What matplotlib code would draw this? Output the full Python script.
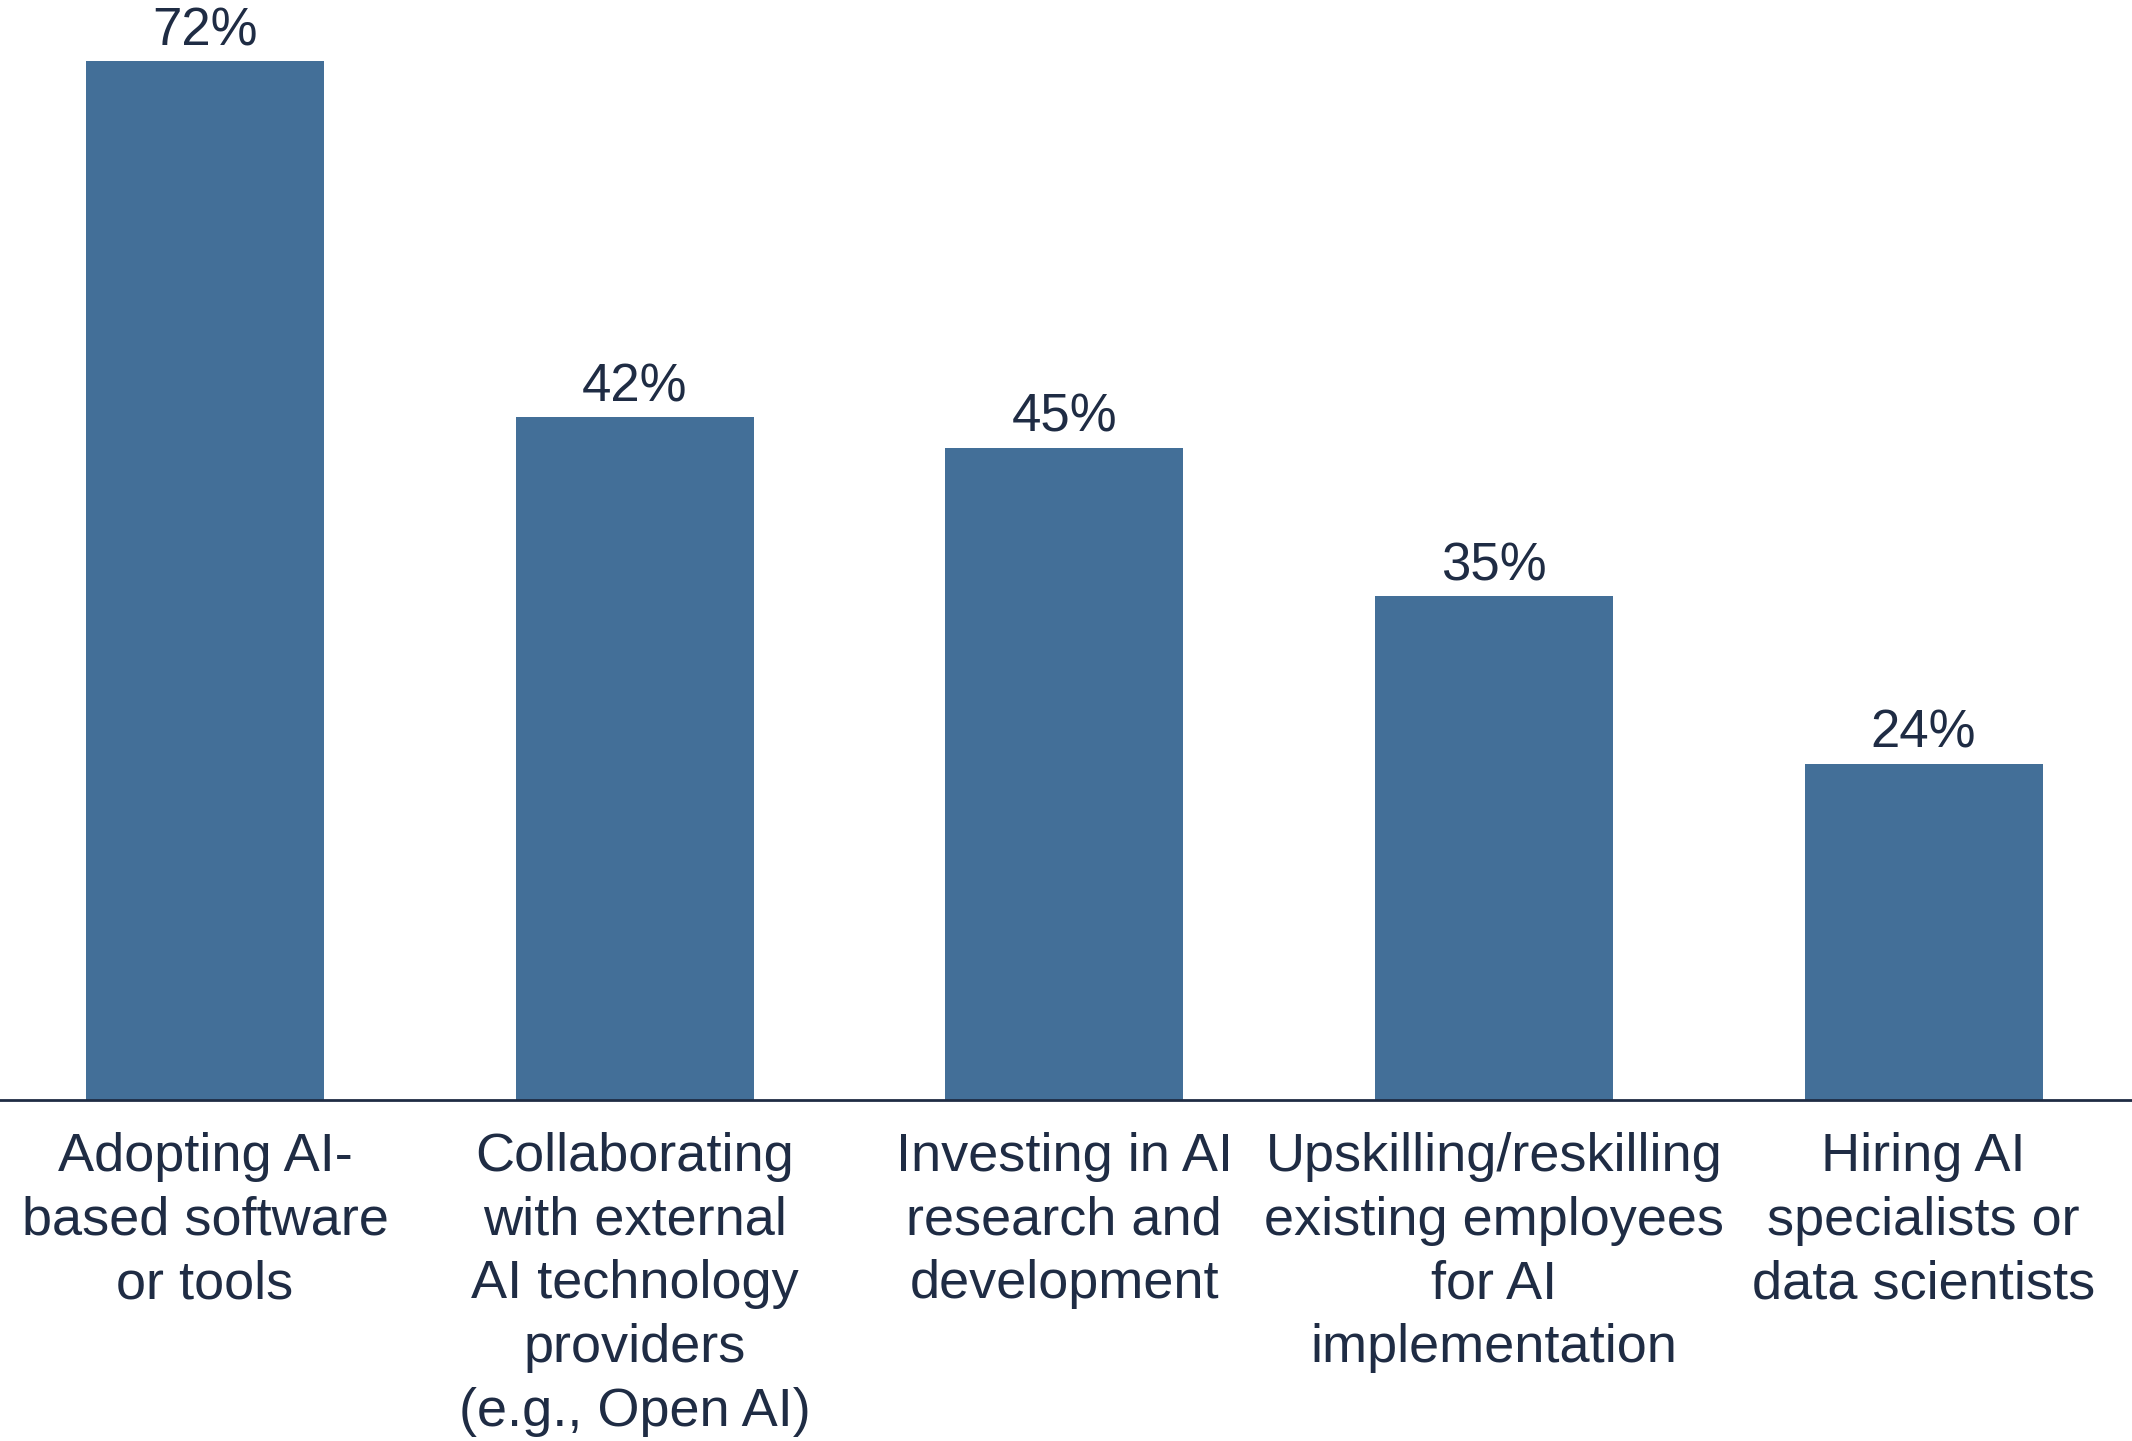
import matplotlib.pyplot as plt

# data (bar heights as drawn, labels as printed)
categories = [
    "Adopting AI-\nbased software\nor tools",
    "Collaborating\nwith external\nAI technology\nproviders\n(e.g., Open AI)",
    "Investing in AI\nresearch and\ndevelopment",
    "Upskilling/reskilling\nexisting employees\nfor AI\nimplementation",
    "Hiring AI\nspecialists or\ndata scientists",
]
bar_heights = [72, 47.3, 45.2, 34.9, 23.3]
value_labels = ["72%", "42%", "45%", "35%", "24%"]

bar_color = '#436f98'
text_color = '#1f2c44'

plt.rcParams['font.family'] = ['Liberation Sans', 'DejaVu Sans']

fig = plt.figure(figsize=(21.32, 14.41), dpi=100)
ax = fig.add_axes([0, 341 / 1441, 1, 1100 / 1441])

x = list(range(len(categories)))
bars = ax.bar(x, bar_heights, width=0.554, color=bar_color)

for b, lab in zip(bars, value_labels):
    ax.annotate(lab, (b.get_x() + b.get_width() / 2, b.get_height()),
                xytext=(0, 11.5), textcoords='offset points',
                ha='center', va='baseline', fontsize=38, color=text_color)

ax.set_xlim(-0.477, 4.485)
ax.set_ylim(0, 1100 / (1039 / 72))

ax.set_xticks(x)
ax.set_xticklabels(categories, fontsize=39, color=text_color,
                   linespacing=1.35, multialignment='center')
ax.tick_params(axis='x', length=0, pad=23)
ax.set_yticks([])

for side in ['top', 'right', 'left']:
    ax.spines[side].set_visible(False)
ax.spines['bottom'].set_color(text_color)
ax.spines['bottom'].set_linewidth(2)

fig.savefig('out.png', dpi=100)
